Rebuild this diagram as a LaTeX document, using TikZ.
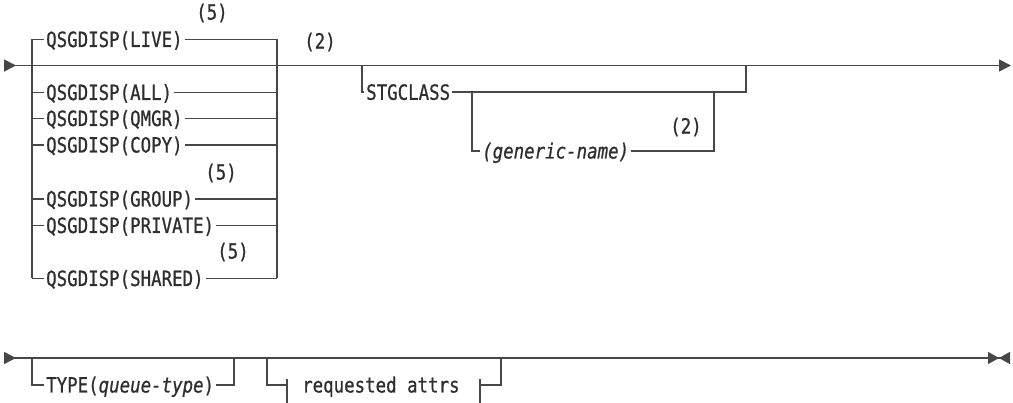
\documentclass[tikz,border=0pt]{standalone}
\usepackage{fontspec}
\newfontfamily\dg[FakeStretch=0.83,FakeBold=0.8]{DejaVu Sans Mono}
\usetikzlibrary{arrows.meta}
\begin{document}
\begin{tikzpicture}[x=1pt,y=-1pt,
  ln/.style={line width=1.6pt, draw=black!72},
  lbl/.style={font=\dg\fontsize{21}{22}\selectfont, inner xsep=2pt, inner ysep=0pt, anchor=base west, text=black!82},
  note/.style={font=\dg\fontsize{21}{22}\selectfont, inner sep=0pt, text=black!82},
  tipr/.style={line width=1.6pt, draw=black!72, {Triangle[reversed,length=12pt,width=12pt]}-{Triangle[length=12pt,width=12pt]}},
  tipe/.style={line width=1.6pt, draw=black!72, {Triangle[reversed,length=12pt,width=12pt]}-{Triangle[length=11pt,width=12pt]Triangle[reversed,length=11pt,width=12pt]}}
  ]
\useasboundingbox (0,0) rectangle (1013,403);

% ---------- row 1 main line
\coordinate (A0) at (4,65.5);
\coordinate (A1) at (1011,65.5);
\draw[tipr] (A0) -- (A1);

% ---------- QSGDISP box
\coordinate (Ltop) at (32,39.5);
\coordinate (Lbot) at (32,278.5);
\coordinate (Rtop) at (277,39.5);
\coordinate (Rbot) at (277,278.5);
\draw[ln] (Ltop) -- (Lbot);
\draw[ln] (Rtop) -- (Rbot);

\coordinate (rlive) at (32,39.5);
\coordinate (rall) at (32,92.5);
\coordinate (rqmgr) at (32,118.5);
\coordinate (rcopy) at (32,145);
\coordinate (rgroup) at (32,199);
\coordinate (rpriv) at (32,225.5);
\coordinate (rshar) at (32,278.5);

\node[lbl] (live) at (44,47) {QSGDISP(LIVE)};
\node[lbl] (all) at (44,100) {QSGDISP(ALL)};
\node[lbl] (qmgr) at (44,126) {QSGDISP(QMGR)};
\node[lbl] (copy) at (44,152.5) {QSGDISP(COPY)};
\node[lbl] (group) at (44,206.5) {QSGDISP(GROUP)};
\node[lbl] (priv) at (44,233) {QSGDISP(PRIVATE)};
\node[lbl] (shar) at (44,286) {QSGDISP(SHARED)};

\draw[ln] (rlive) -- (rlive -| live.west);   \draw[ln] (rlive -| live.east) -- (rlive -| Rtop);
\draw[ln] (rall) -- (rall -| all.west);      \draw[ln] (rall -| all.east) -- (rall -| Rtop);
\draw[ln] (rqmgr) -- (rqmgr -| qmgr.west);   \draw[ln] (rqmgr -| qmgr.east) -- (rqmgr -| Rtop);
\draw[ln] (rcopy) -- (rcopy -| copy.west);   \draw[ln] (rcopy -| copy.east) -- (rcopy -| Rtop);
\draw[ln] (rgroup) -- (rgroup -| group.west); \draw[ln] (rgroup -| group.east) -- (rgroup -| Rtop);
\draw[ln] (rpriv) -- (rpriv -| priv.west);   \draw[ln] (rpriv -| priv.east) -- (rpriv -| Rtop);
\draw[ln] (rshar) -- (rshar -| shar.west);   \draw[ln] (rshar -| shar.east) -- (rshar -| Rtop);

\node[note] (n5a) at (212,13) {(5)};
\node[note] (n5b) at (221,173) {(5)};
\node[note] (n5c) at (233,252) {(5)};
\node[note] (n2a) at (320,42) {(2)};

% ---------- STGCLASS box
\coordinate (S0) at (362,65.5);
\coordinate (S1) at (362,92.3);
\coordinate (S2) at (746,92.3);
\coordinate (S3) at (746,65.5);
\node[lbl] (stg) at (364,99.8) {STGCLASS};
\draw[ln] (S0) -- (S1) -- (S1 -| stg.west);
\draw[ln] (S1 -| stg.east) -- (S2) -- (S3);

\coordinate (G0) at (472,92.3);
\coordinate (G1) at (472,151);
\coordinate (G2) at (714,151);
\coordinate (G3) at (714,92.3);
\node[lbl] (gen) at (480,158.5) {\itshape (generic-name)};
\draw[ln] (G0) -- (G1) -- (G1 -| gen.west);
\draw[ln] (G1 -| gen.east) -- (G2) -- (G3);
\node[note] (n2b) at (686,127) {(2)};

% ---------- row 2 main line
\coordinate (B0) at (4,358);
\coordinate (B1) at (1010,358);
\draw[tipe] (B0) -- (B1);

\coordinate (T0) at (32,358);
\coordinate (T1) at (32,385);
\coordinate (T2) at (234,385);
\coordinate (T3) at (234,358);
\node[lbl] (type) at (44,392.5) {TYPE(\textit{queue-type})};
\draw[ln] (T0) -- (T1) -- (T1 -| type.west);
\draw[ln] (T1 -| type.east) -- (T2) -- (T3);

\coordinate (Q0) at (267,358);
\coordinate (Q1) at (267,385);
\coordinate (Q2) at (287,385);
\coordinate (Qb0) at (287,379);
\coordinate (Qb1) at (287,403);
\coordinate (Qc0) at (480,379);
\coordinate (Qc1) at (480,403);
\coordinate (Q3) at (480,385);
\coordinate (Q4) at (501,385);
\coordinate (Q5) at (501,358);
\node[lbl] (req) at (300,392.5) {requested attrs};
\draw[ln] (Q0) -- (Q1) -- (Q2);
\draw[ln] (Qb0) -- (Qb1);
\draw[ln] (Qc0) -- (Qc1);
\draw[ln] (Q3) -- (Q4) -- (Q5);

\coordinate (K0) at (507,358);
\coordinate (K1) at (529,358);
\draw[ln, line width=2.4pt] (K0) -- (K1);
\end{tikzpicture}
\end{document}
